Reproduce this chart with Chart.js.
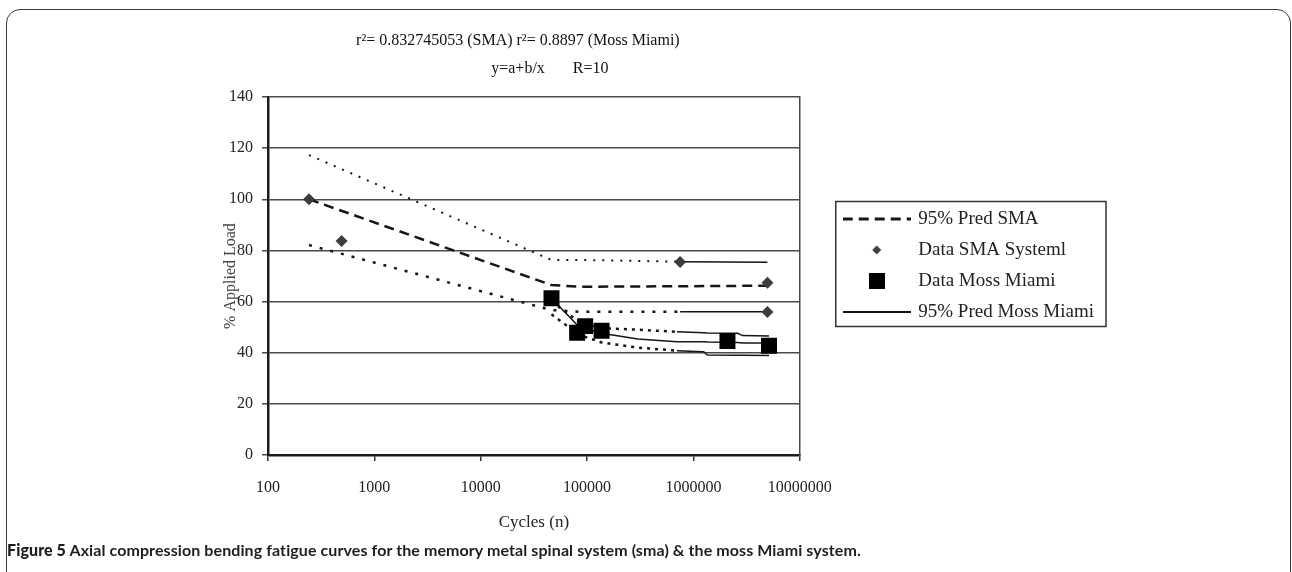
<!DOCTYPE html>
<html>
<head>
<meta charset="utf-8">
<title>Axial compression bending fatigue curves</title>
<script src="https://cdn.jsdelivr.net/npm/chart.js@4.4.1/dist/chart.umd.min.js"></script>
<style>
  html, body { margin: 0; padding: 0; background: #fff; }
  #page { position: relative; width: 1292px; height: 572px; overflow: hidden; background: #fff; }
  #frame {
    position: absolute; left: 6px; top: 9px; width: 1285px; height: 640px;
    box-sizing: border-box; border: 1.5px solid #3a3a3a; border-radius: 14px;
  }
  #chart { position: absolute; left: 0; top: 0; }
  #caption {
    position: absolute; left: 7px; top: 540px; letter-spacing: 0.09px;
    font: 700 16px Lato, "Open Sans", sans-serif; color: #1e1e1e; white-space: nowrap;
  }
</style>
</head>
<body>
<div id="page">
  <div id="frame"></div>
  <canvas id="chart" width="1292" height="572"></canvas>
  <div id="caption"><b>Figure 5</b> Axial compression bending fatigue curves for the memory metal spinal system (sma) &amp; the moss Miami system.</div>
</div>
<script>
const smaCycles = [243, 492, 750000, 4970000, 4970000];
const smaLoad = [100, 83.7, 75.5, 67.4, 55.9];

const mossCycles = [46300, 80700, 96000, 137000, 2090000, 5140000];
const mossLoad = [61.3, 47.8, 50.4, 48.6, 44.6, 42.7];

// 95% prediction curves (SMA)
const predSmaCycles = [243, 46000, 84000, 750000, 4970000];
const predSmaMid = [100, 66.5, 65.8, 66.0, 66.2];
const predSmaUpper = [117.3, 76.3, 76.3, 75.6, 75.4];
const predSmaLower = [82.1, 56.7, 56.0, 56.0, 56.0];

// 95% prediction curves (Moss Miami)
const predMossCycles = [46300, 84400, 137000, 300000, 700000, 1250000, 1350000, 2600000, 2900000, 5140000];
const predMossMid = [61.3, 50.0, 47.6, 45.4, 44.3, 44.3, 44.2, 44.0, 43.8, 43.8];
const predMossUpper = [60.0, 52.0, 49.6, 49.0, 48.2, 47.8, 47.7, 47.6, 46.7, 46.5];
const predMossLower = [55.0, 47.0, 44.0, 42.0, 40.8, 40.4, 39.1, 39.0, 39.0, 38.9];

const xTicks = [100, 1000, 10000, 100000, 1000000, 10000000];
const yTicks = [0, 20, 40, 60, 80, 100, 120, 140];

const titleLines = ['r\u00b2= 0.832745053 (SMA) r\u00b2= 0.8897 (Moss Miami)        ', '        y=a+b/x       R=10'];
const legendOrder = ['95% Pred SMA', 'Data SMA Systeml', 'Data Moss Miami', '95% Pred Moss Miami'];

const ink = '#161616';
const gridInk = '#4a4a4a';

function toPoints(xs, ys) {
    return xs.map((x, i) => ({ x: x, y: ys[i] }));
}

// small canvases used as legend symbols
function makeIcon(w, h, paint) {
    const c = document.createElement('canvas');
    c.width = w;
    c.height = h;
    paint(c.getContext('2d'), w, h);
    return c;
}

const legendIcons = {
    '95% Pred SMA': makeIcon(68, 6, (g, w, h) => {
        g.strokeStyle = ink; g.lineWidth = 3; g.setLineDash([10, 6]);
        g.beginPath(); g.moveTo(0, h / 2); g.lineTo(w, h / 2); g.stroke();
    }),
    'Data SMA Systeml': makeIcon(12, 12, (g) => {
        g.fillStyle = '#3d3d3d';
        g.beginPath(); g.moveTo(6, 1.5); g.lineTo(10.5, 6); g.lineTo(6, 10.5); g.lineTo(1.5, 6); g.closePath(); g.fill();
    }),
    'Data Moss Miami': makeIcon(16, 16, (g) => {
        g.fillStyle = '#000'; g.fillRect(0, 0, 16, 16);
    }),
    '95% Pred Moss Miami': makeIcon(68, 4, (g, w, h) => {
        g.strokeStyle = ink; g.lineWidth = 2;
        g.beginPath(); g.moveTo(0, h / 2); g.lineTo(w, h / 2); g.stroke();
    })
};

const dottedUntil = 700000;

const datasets = [
    {
        label: 'Data SMA Systeml',
        data: toPoints(smaCycles, smaLoad),
        pointStyle: 'rectRot', pointRadius: 6, pointHoverRadius: 6,
        backgroundColor: '#3d3d3d', borderColor: '#3d3d3d', borderWidth: 0
    },
    {
        label: 'Data Moss Miami',
        data: toPoints(mossCycles, mossLoad),
        pointStyle: 'rect', pointRadius: 11.3, pointHoverRadius: 11.3,
        backgroundColor: '#000', borderColor: '#000', borderWidth: 0
    },
    {
        label: '95% Pred SMA',
        data: toPoints(predSmaCycles, predSmaMid),
        showLine: true, pointRadius: 0, borderColor: ink, borderWidth: 2.5, borderDash: [10, 6]
    },
    {
        label: '95% Pred SMA (upper)',
        data: toPoints(predSmaCycles, predSmaUpper),
        showLine: true, pointRadius: 0, borderColor: ink, borderWidth: 2, borderDash: [2, 7],
        segment: { borderDash: ctx => ctx.p1.parsed.x > 800000 ? [] : undefined, borderWidth: ctx => ctx.p1.parsed.x > 800000 ? 1.5 : undefined }
    },
    {
        label: '95% Pred SMA (lower)',
        data: toPoints(predSmaCycles, predSmaLower),
        showLine: true, pointRadius: 0, borderColor: ink, borderWidth: 2.5, borderDash: [3, 8],
        segment: { borderDash: ctx => ctx.p1.parsed.x > 800000 ? [] : undefined, borderWidth: ctx => ctx.p1.parsed.x > 800000 ? 1.5 : undefined }
    },
    {
        label: '95% Pred Moss Miami',
        data: toPoints(predMossCycles, predMossMid),
        showLine: true, pointRadius: 0, borderColor: ink, borderWidth: 1.5
    },
    {
        label: '95% Pred Moss Miami (upper)',
        data: toPoints(predMossCycles, predMossUpper),
        showLine: true, pointRadius: 0, borderColor: ink, borderWidth: 1.5,
        segment: { borderDash: ctx => ctx.p1.parsed.x <= dottedUntil ? [3, 5] : undefined, borderWidth: ctx => ctx.p1.parsed.x <= dottedUntil ? 2.5 : undefined }
    },
    {
        label: '95% Pred Moss Miami (lower)',
        data: toPoints(predMossCycles, predMossLower),
        showLine: true, pointRadius: 0, borderColor: ink, borderWidth: 1.5,
        segment: { borderDash: ctx => ctx.p1.parsed.x <= dottedUntil ? [3, 5] : undefined, borderWidth: ctx => ctx.p1.parsed.x <= dottedUntil ? 2.5 : undefined }
    }
];

// box drawn round the legend entries
const legendFrame = {
    id: 'legendFrame',
    afterDraw(chart) {
        const lg = chart.legend;
        if (!lg || !lg.legendHitBoxes || !lg.legendHitBoxes.length) return;
        const boxes = lg.legendHitBoxes;
        const first = boxes[0];
        const last = boxes[boxes.length - 1];
        const widest = Math.max(...boxes.map(b => b.width));
        const ctx = chart.ctx;
        ctx.save();
        ctx.strokeStyle = '#333';
        ctx.lineWidth = 1.5;
        const left = first.left - 9;
        const top = first.top - 8;
        ctx.strokeRect(left, top, widest + 21, last.top + last.height + 5 - top);
        ctx.restore();
    }
};

Chart.defaults.font.family = '"Liberation Serif", "Times New Roman", serif';
Chart.defaults.color = '#222';

new Chart(document.getElementById('chart'), {
    type: 'scatter',
    data: { datasets: datasets },
    plugins: [legendFrame],
    options: {
        responsive: false,
        animation: false,
        events: [],
        layout: { padding: { left: 0, top: 0, right: 188, bottom: 0 } },
        plugins: {
            title: {
                display: true,
                fullSize: false,
                text: titleLines,
                color: '#111',
                font: { size: 16, weight: 'normal', lineHeight: 1.75 },
                padding: { top: 27, bottom: 14 }
            },
            legend: {
                position: 'right',
                align: 'start',
                fullSize: false,
                maxWidth: 320,
                title: { display: true, text: '', font: { size: 10, lineHeight: 1.2 }, padding: { top: 88.5, bottom: 0 } },
                labels: {
                    usePointStyle: true,
                    pointStyleWidth: 64,
                    boxHeight: 16,
                    padding: 12,
                    color: '#222',
                    font: { size: 19 },
                    generateLabels: chart => chart.data.datasets
                        .map((ds, i) => ({
                            text: ds.label,
                            datasetIndex: i,
                            pointStyle: legendIcons[ds.label],
                            fontColor: '#222',
                            lineWidth: 0,
                            hidden: false
                        }))
                        .filter(item => legendOrder.includes(item.text))
                        .sort((a, b) => legendOrder.indexOf(a.text) - legendOrder.indexOf(b.text))
                }
            },
            tooltip: { enabled: false }
        },
        scales: {
            x: {
                type: 'logarithmic',
                min: 100,
                max: 10000000,
                afterBuildTicks: axis => { axis.ticks = xTicks.map(v => ({ value: v })); },
                afterFit: axis => { axis.height = 117; },
                grid: { drawOnChartArea: false, drawTicks: true, tickLength: 6, color: '#333', lineWidth: 1.5 },
                border: { display: true, color: '#1c1c1c', width: 2.5 },
                ticks: {
                    color: '#222',
                    font: { size: 16 },
                    padding: 17,
                    maxRotation: 0,
                    autoSkip: false,
                    callback: value => String(value)
                },
                title: {
                    display: true,
                    text: 'Cycles (n)',
                    color: '#222',
                    font: { size: 17 },
                    padding: { top: 0, bottom: 39 }
                }
            },
            y: {
                type: 'linear',
                min: 0,
                max: 140,
                afterBuildTicks: axis => { axis.ticks = yTicks.map(v => ({ value: v })); },
                afterFit: axis => { axis.width = 268; },
                grid: { color: gridInk, lineWidth: 1.5, drawTicks: true, tickLength: 6 },
                border: { display: true, color: '#1c1c1c', width: 2.5 },
                ticks: { color: '#222', font: { size: 16 }, padding: 9 },
                title: {
                    display: true,
                    text: '% Applied Load',
                    color: '#444',
                    font: { size: 16 },
                    padding: { top: 221, bottom: 0 }
                }
            },
            yRight: {
                type: 'linear',
                position: 'right',
                min: 0,
                max: 140,
                afterFit: axis => { axis.width = 33; },
                grid: { display: true, color: 'rgba(0,0,0,0)', drawTicks: false },
                border: { display: true, color: gridInk, width: 1.5 },
                ticks: { display: false }
            }
        }
    }
});
</script>
</body>
</html>
